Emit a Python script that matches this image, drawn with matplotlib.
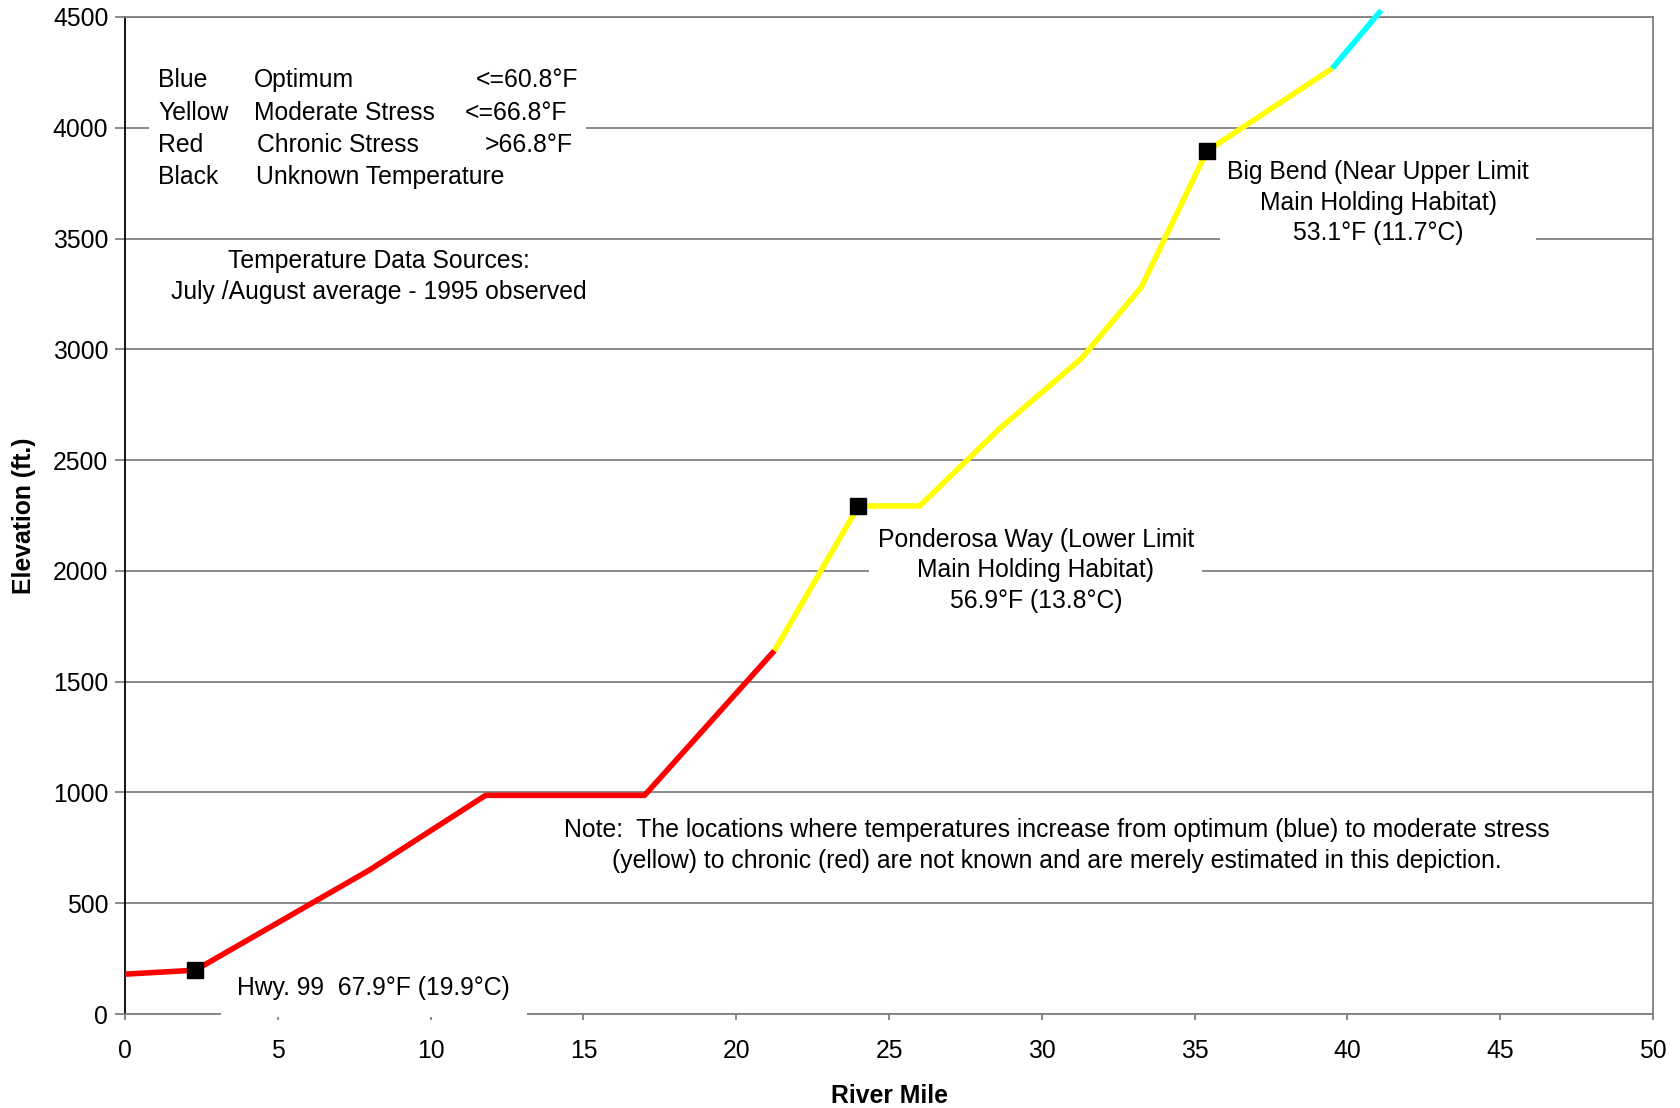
import matplotlib.pyplot as plt
from matplotlib.patches import Rectangle

plt.rcParams['font.family'] = ['Liberation Sans', 'DejaVu Sans']

# river profile, split by temperature class
red_miles = [0, 2.3, 8.0, 11.8, 17.0, 21.25]
red_elev = [180, 198, 650, 987, 987, 1640]
yellow_miles = [21.25, 24.0, 26.0, 28.6, 31.3, 33.25, 35.4, 39.5]
yellow_elev = [1640, 2293, 2293, 2640, 2960, 3280, 3895, 4268]
cyan_miles = [39.5, 41.1]
cyan_elev = [4268, 4530]

# monitoring sites
site_miles = [2.3, 24.0, 35.4]
site_elev = [198, 2293, 3895]

xticks = list(range(0, 51, 5))
yticks = list(range(0, 4501, 500))

fs = 17.8

fig = plt.figure(figsize=(16.8, 11.08), dpi=100)
ax = fig.add_axes([0.0744, 0.0848, 0.9096, 0.8999])

ax.set_xlim(0, 50)
ax.set_ylim(0, 4500)
ax.set_xticks(xticks)
ax.set_yticks(yticks)
ax.grid(axis='y', color='#808080', lw=1.3, zorder=0)
ax.set_axisbelow(True)

ax.plot(red_miles, red_elev, color='#ff0000', lw=4, zorder=6, solid_capstyle='butt')
ax.plot(yellow_miles, yellow_elev, color='#ffff00', lw=4, zorder=6, solid_capstyle='butt')
ax.plot(cyan_miles, cyan_elev, color='#00ffff', lw=4, zorder=6, solid_capstyle='butt', clip_on=False)
ax.plot(site_miles, site_elev, 's', color='black', ms=12, zorder=7)

for s in ['top', 'right', 'bottom']:
    ax.spines[s].set_color('#808080')
    ax.spines[s].set_linewidth(1.3)
ax.spines['left'].set_color('black')
ax.spines['left'].set_linewidth(1.3)

ax.tick_params(axis='y', direction='out', length=7, width=1.3, color='#808080',
               labelsize=fs, pad=5)
ax.tick_params(axis='x', direction='out', length=4, width=1.3, color='#808080',
               labelsize=fs, pad=14)

ax.set_xlabel('River Mile', fontsize=fs, fontweight='bold', labelpad=15)
ax.set_ylabel('Elevation (ft.)', fontsize=fs, fontweight='bold', labelpad=12)

# legend block
ax.add_patch(Rectangle((0.8, 3740), 14.3, 560, facecolor='white', edgecolor='none', zorder=1))
rows = [('Blue', 'Optimum', '<=60.8°F'),
        ('Yellow', 'Moderate Stress', '<=66.8°F'),
        ('Red', 'Chronic Stress', '>66.8°F'),
        ('Black', 'Unknown Temperature', '')]
row_y = [4215, 4068, 3922, 3777]
thr_x = [14.83, 14.48, 14.66]
name_x = [4.21, 4.21, 4.31, 4.28]
for i, (c, n, t) in enumerate(rows):
    ax.text(1.09, row_y[i], c, fontsize=fs, va='center', ha='left', zorder=2)
    ax.text(name_x[i], row_y[i], n, fontsize=fs, va='center', ha='left', zorder=2)
    if t:
        ax.text(thr_x[i], row_y[i], t, fontsize=fs, va='center', ha='right', zorder=2)

ax.text(8.3, 3330, 'Temperature Data Sources:\nJuly /August average - 1995 observed',
        fontsize=fs, ha='center', va='center', linespacing=1.35, zorder=2)

ax.text(41.0, 3662, 'Big Bend (Near Upper Limit\nMain Holding Habitat)\n53.1°F (11.7°C)',
        fontsize=fs, ha='center', va='center', linespacing=1.35, zorder=2,
        bbox=dict(facecolor='white', edgecolor='none', pad=5))
ax.text(29.8, 2003, 'Ponderosa Way (Lower Limit\nMain Holding Habitat)\n56.9°F (13.8°C)',
        fontsize=fs, ha='center', va='center', linespacing=1.35, zorder=2,
        bbox=dict(facecolor='white', edgecolor='none', pad=6))
ax.text(30.5, 762, 'Note:  The locations where temperatures increase from optimum (blue) to moderate stress\n'
        '(yellow) to chronic (red) are not known and are merely estimated in this depiction.',
        fontsize=fs, ha='center', va='center', linespacing=1.35, zorder=2)
ax.text(3.68, 116, 'Hwy. 99  67.9°F (19.9°C)', fontsize=fs, ha='left', va='center', zorder=5,
        bbox=dict(facecolor='white', edgecolor='none', pad=12), clip_on=False)

fig.savefig('out.png', dpi=100)
